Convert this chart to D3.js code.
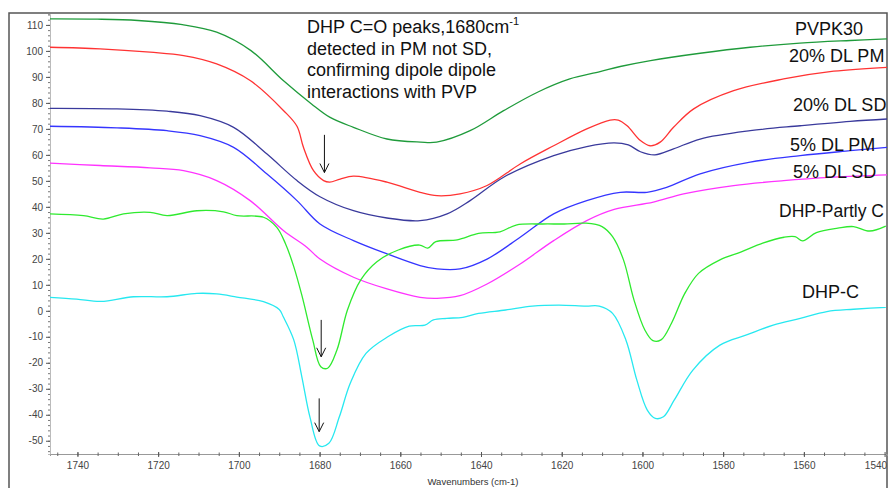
<!DOCTYPE html>
<html>
<head>
<meta charset="utf-8">
<script src="https://cdn.jsdelivr.net/npm/d3@7"></script>
<style>
  body { margin: 0; background: #fff; }
  svg { display: block; font-family: "Liberation Sans", Arial, sans-serif; }
</style>
</head>
<body>
<div id="chart"></div>
<script>
// Set up dimensions and margins
const width = 890;
const height = 488;
const margin = { top: 14, right: 3, bottom: 34, left: 50 };

// Spectra: [wavenumber, value]
const pvpk30 = [
  [1746.8, 112.3], [1735, 112.2], [1725, 111.7], [1714, 110.1], [1705.5, 107.2],
  [1697, 100.1], [1689, 88.6], [1682, 79.6], [1677.5, 74.5], [1671.6, 70.6],
  [1663.3, 66.1], [1655, 64.9], [1651, 64.9], [1642.7, 69.3], [1634.4, 77.0],
  [1626, 84.1], [1618, 89.2], [1610.5, 92.0], [1605.5, 94.0], [1598, 96.3],
  [1585.7, 99.1], [1573.3, 101.4], [1561, 103.0], [1548.5, 104.0], [1539.4, 104.6]
];

const dl20PM = [
  [1746.8, 101.4], [1734.4, 100.8], [1722, 99.5], [1713.7, 98.2], [1705.5, 95.0],
  [1697.2, 88.6], [1688.9, 77.0], [1685.6, 71.0], [1684, 62.9], [1681.5, 53.9],
  [1679, 50.1], [1677.5, 49.5], [1674.9, 50.7], [1671.6, 51.8], [1663.3, 49.5],
  [1655.1, 45.6], [1650.9, 44.3], [1645.2, 45.0], [1638.5, 48.2], [1630.3, 56.5],
  [1622, 63.5], [1613.8, 70.0], [1608, 73.4], [1606, 73.4], [1603.8, 71.2],
  [1600.5, 65.5], [1598.1, 63.5], [1595.6, 64.9], [1592.3, 70.6], [1587.3, 77.7],
  [1577.4, 84.7], [1565, 89.2], [1552.6, 92.2], [1539.4, 93.7]
];

const dl20SD = [
  [1746.8, 77.9], [1730.2, 77.7], [1717.8, 76.8], [1709.6, 75.1], [1701.3, 70.6],
  [1693.1, 60.4], [1685.6, 50.1], [1679.9, 43.9], [1671.6, 38.5], [1663.3, 35.7],
  [1655.1, 34.7], [1648.4, 37.3], [1642.7, 42.4], [1634.4, 51.4], [1622, 59.7],
  [1613.8, 63.2], [1607, 64.6], [1603.5, 63.8], [1600.5, 61.2], [1596.9, 60.0],
  [1592.3, 62.3], [1585.7, 66.1], [1573.3, 69.3], [1560.9, 71.2], [1548.5, 72.9],
  [1539.4, 73.8]
];

const dl5PM = [
  [1746.8, 71.0], [1730.2, 70.4], [1717.8, 69.3], [1709.6, 67.4], [1701.3, 62.9],
  [1693.1, 52.7], [1685.6, 42.4], [1679.9, 33.4], [1671.6, 27.0], [1663.3, 21.9],
  [1655.1, 17.4], [1650.9, 16.1], [1645.2, 16.1], [1638.5, 19.9], [1630.3, 28.3],
  [1622, 37.3], [1613.8, 42.4], [1605.5, 45.6], [1598.9, 45.6], [1594, 47.5],
  [1585.7, 52.7], [1573.3, 57.2], [1560.9, 59.7], [1548.5, 61.6], [1539.4, 62.9]
];

const dl5SD = [
  [1746.8, 56.8], [1734.4, 55.9], [1722, 55.0], [1713.7, 53.9], [1705.5, 50.1],
  [1697.2, 42.4], [1688.9, 30.8], [1683.1, 24.4], [1679.9, 19.9], [1671.6, 12.9],
  [1663.3, 8.4], [1655.1, 5.2], [1650.9, 4.8], [1645.2, 5.8], [1638.5, 10.3],
  [1630.3, 18.0], [1622, 27.0], [1613.8, 34.7], [1607, 39.0], [1597.3, 41.8],
  [1589.8, 45.0], [1577.4, 48.2], [1565, 50.1], [1552.6, 51.4], [1539.4, 52.3]
];

const dhpPartlyC = [
  [1746.8, 37.3], [1738.5, 36.6], [1733.6, 35.3], [1728.6, 37.3], [1722, 37.9],
  [1717.8, 36.6], [1710.4, 38.5], [1703.8, 38.1], [1700.5, 36.6], [1693.9, 36.0],
  [1690.6, 32.1], [1688.5, 26.0], [1686.4, 17.0], [1684.4, 6.0], [1681.7, -11.2],
  [1679.7, -21.5], [1678, -22.1], [1675.7, -15.1], [1673.1, 0.3], [1669.8, 11.9],
  [1665.8, 18.9], [1660.5, 23.4], [1655.2, 25.3], [1653.2, 24.1], [1651.2, 26.6],
  [1645.9, 27.3], [1640.6, 29.8], [1635.3, 30.4], [1631.3, 33.0], [1624.7, 33.4],
  [1619.4, 33.4], [1614, 33.7], [1610, 32.4], [1607.4, 28.5], [1604.7, 19.6],
  [1602.1, 4.2], [1599.4, -7.4], [1597.4, -11.5], [1595.4, -11.2], [1592.8, -4.8],
  [1589.5, 6.7], [1586.1, 14.4], [1580.8, 19.6], [1575.5, 22.7], [1570.2, 26.0],
  [1564.9, 28.3], [1562.2, 28.5], [1560.3, 26.9], [1556.9, 30.1], [1551.6, 31.8],
  [1547.7, 32.4], [1543.7, 30.7], [1539.7, 32.6]
];

const dhpC = [
  [1746.8, 5.2], [1740.2, 4.5], [1734.2, 3.6], [1726.1, 5.4], [1717.8, 5.4],
  [1710.4, 6.7], [1705.5, 6.5], [1700.5, 5.3], [1693.9, 3.5], [1690, 0.5],
  [1689, -2.3], [1686.4, -11.2], [1684.4, -25.4], [1682.4, -40.8], [1680, -52.0],
  [1677.7, -51.0], [1675.1, -40.8], [1672.4, -27.9], [1668.5, -16.4], [1663.1, -10.0],
  [1657.8, -5.9], [1653.9, -5.5], [1651.8, -3.5], [1648.5, -2.9], [1644.5, -2.5],
  [1640.6, -1.0], [1633.9, 0.3], [1627.3, 1.8], [1620.7, 2.2], [1614, 1.8],
  [1610.7, 1.8], [1607.4, -1.0], [1604.1, -11.2], [1601.4, -26.6], [1598.8, -38.2],
  [1596.8, -41.4], [1594.8, -40.8], [1592.1, -34.3], [1587.5, -22.8], [1580.8, -13.2],
  [1574.2, -9.3], [1567.6, -5.5], [1560.9, -2.9], [1554.3, -0.3], [1547.7, 0.6],
  [1539.7, 1.3]
];

const seriesNames = ["PVPK30", "20% DL PM", "20% DL SD", "5% DL PM", "5% DL SD", "DHP-Partly C", "DHP-C"];
const seriesData = [pvpk30, dl20PM, dl20SD, dl5PM, dl5SD, dhpPartlyC, dhpC];
const seriesColors = ["#1f9b3b", "#ff3333", "#3a3a9c", "#3535ff", "#ff33ff", "#2fea2f", "#27e8f0"];

// Arrows: wavenumber, start value, end value
const arrows = [
  [1678.8, 67.7, 53.2],
  [1679.6, -3.5, -17.7],
  [1680.1, -33.7, -46.5]
];

const noteLines = ["detected in PM not SD,", "confirming dipole dipole", "interactions with PVP"];

// Scales
const x = d3.scaleLinear()
  .domain([1746.8, 1539.4])
  .range([margin.left, width - margin.right]);

const y = d3.scaleLinear()
  .domain([-55.1, 114.2])
  .range([height - margin.bottom, margin.top]);

const svg = d3.select("#chart")
  .append("svg")
  .attr("width", width)
  .attr("height", height);

svg.append("defs").append("clipPath")
  .attr("id", "plot-clip")
  .append("rect")
  .attr("x", margin.left)
  .attr("y", margin.top)
  .attr("width", width - margin.right - margin.left)
  .attr("height", height - margin.bottom - margin.top);

// Outer frame
svg.append("path")
  .attr("d", `M9,${height} V13 H${width - 3} V${height}`)
  .attr("fill", "none")
  .attr("stroke", "#555")
  .attr("stroke-width", 1.5);

// Y axis: minor ticks then labelled ticks
svg.append("g")
  .attr("transform", `translate(${margin.left},0)`)
  .call(d3.axisLeft(y).tickValues(d3.range(-54, 115, 2)).tickSize(2).tickFormat(""))
  .call(g => g.selectAll(".tick line").attr("stroke", "#777"))
  .call(g => g.select(".domain").attr("stroke", "#bbb"));

svg.append("g")
  .attr("transform", `translate(${margin.left},0)`)
  .call(d3.axisLeft(y).tickValues(d3.range(-50, 111, 10)).tickSize(4).tickPadding(3).tickFormat(d => String(d)))
  .call(g => g.select(".domain").remove())
  .call(g => g.selectAll(".tick line").attr("stroke", "#555"))
  .call(g => g.selectAll("text").attr("fill", "#444").attr("font-size", 10).attr("font-family", "Liberation Sans, Arial, sans-serif"));

// X axis
svg.append("g")
  .attr("transform", `translate(0,${height - margin.bottom})`)
  .call(d3.axisBottom(x).tickValues(d3.range(1545, 1746, 5)).tickSize(2).tickFormat(""))
  .call(g => g.selectAll(".tick line").attr("stroke", "#666").attr("y1", -1.5))
  .call(g => g.select(".domain").attr("stroke", "#999"));

svg.append("g")
  .attr("transform", `translate(0,${height - margin.bottom})`)
  .call(d3.axisBottom(x).tickValues(d3.range(1540, 1741, 20)).tickSize(3).tickPadding(5).tickFormat(d => String(d)))
  .call(g => g.select(".domain").remove())
  .call(g => g.selectAll(".tick line").attr("stroke", "#555").attr("y1", -2))
  .call(g => g.selectAll("text").attr("fill", "#444").attr("font-size", 10).attr("font-family", "Liberation Sans, Arial, sans-serif"))
  .call(g => g.selectAll(".tick text").filter(d => d === 1540).attr("text-anchor", "end").attr("dx", 2));

svg.append("text")
  .attr("x", 473)
  .attr("y", 485)
  .attr("text-anchor", "middle")
  .attr("font-size", 9.5)
  .attr("fill", "#333")
  .text("Wavenumbers (cm-1)");

// Lines
const line = d3.line()
  .curve(d3.curveCatmullRom.alpha(0.5))
  .x(d => x(d[0]))
  .y(d => y(d[1]));

svg.append("g")
  .attr("clip-path", "url(#plot-clip)")
  .selectAll("path")
  .data(seriesData)
  .join("path")
  .attr("fill", "none")
  .attr("stroke", (d, i) => seriesColors[i])
  .attr("stroke-width", 1.3)
  .attr("stroke-linejoin", "round")
  .attr("d", line);

// Arrows
svg.append("g")
  .selectAll("path")
  .data(arrows)
  .join("path")
  .attr("fill", "none")
  .attr("stroke", "#111")
  .attr("stroke-width", 1)
  .attr("d", d => {
    const px = x(d[0]), y0 = y(d[1]), y1 = y(d[2]);
    return `M${px},${y0} V${y1} M${px - 4.5},${y1 - 9} L${px},${y1} L${px + 4.5},${y1 - 9}`;
  });

// Series labels
const labelPos = [[795, 35], [789, 62], [793, 111], [790, 151], [793, 178], [779, 217], [802, 298]];
svg.append("g")
  .selectAll("text")
  .data(seriesNames)
  .join("text")
  .attr("x", (d, i) => labelPos[i][0])
  .attr("y", (d, i) => labelPos[i][1])
  .attr("font-size", (d, i) => i === 5 ? 17.5 : 18)
  .attr("fill", "#111")
  .text(d => d);

// Annotation
const note = svg.append("text")
  .attr("x", 307)
  .attr("y", 33)
  .attr("font-size", 18)
  .attr("fill", "#111");
note.append("tspan").text("DHP C=O peaks,1680cm");
note.append("tspan").attr("font-size", 11).attr("dy", -8).text("-1");

svg.append("g")
  .selectAll("text")
  .data(noteLines)
  .join("text")
  .attr("x", 307)
  .attr("y", (d, i) => 55 + i * 21.3)
  .attr("font-size", 18)
  .attr("fill", "#111")
  .text(d => d);
</script>
</body>
</html>
